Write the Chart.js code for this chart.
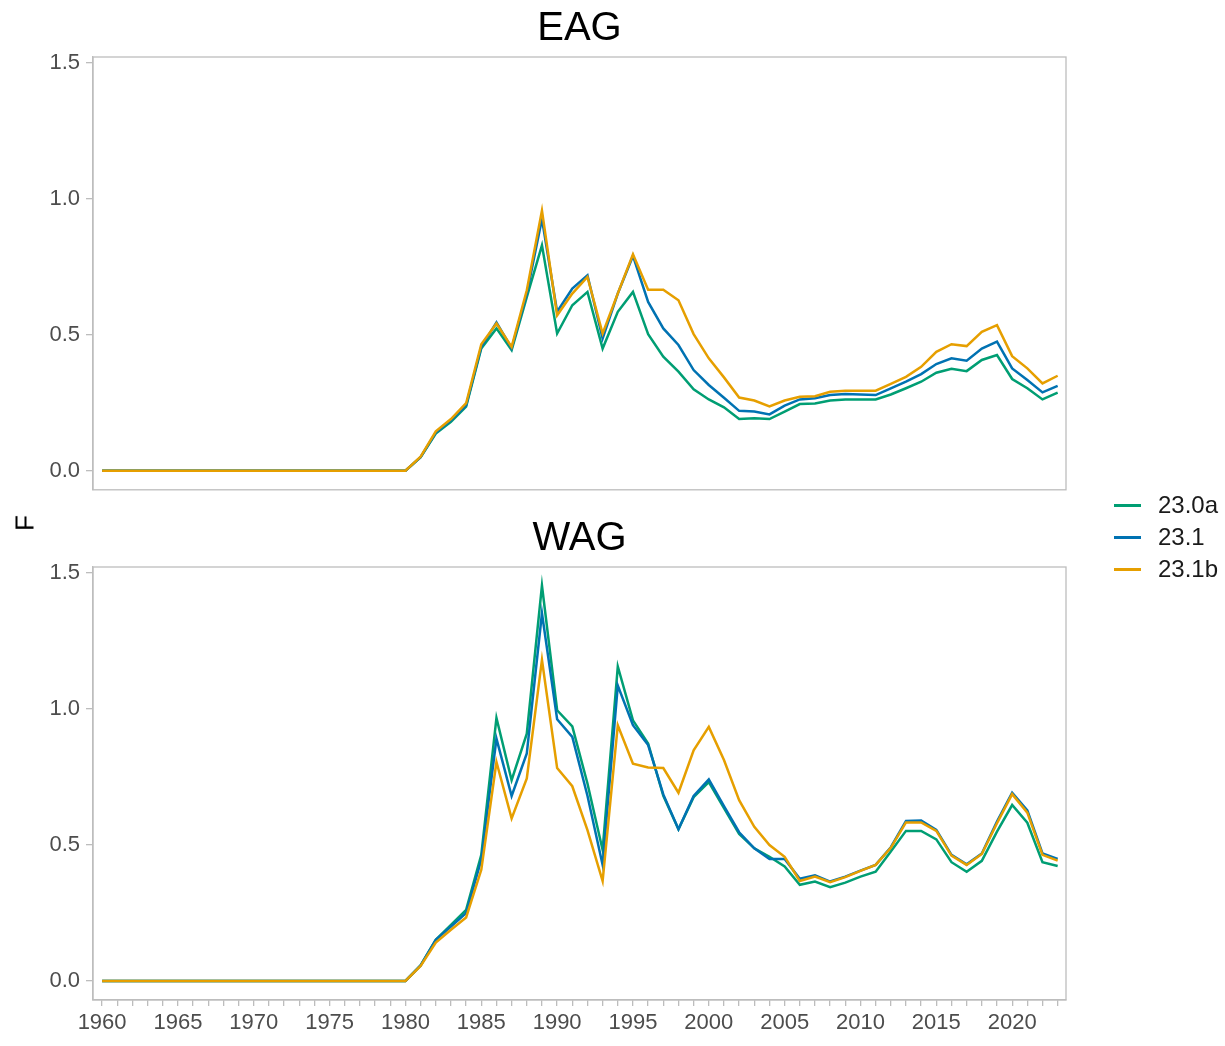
<!DOCTYPE html>
<html>
<head>
<meta charset="utf-8">
<title>F by area</title>
<script src="https://cdn.jsdelivr.net/npm/chart.js"></script>
<style>
  body { margin: 0; background: #fff; width: 1225px; height: 1046px; position: relative; overflow: hidden;
         font-family: "Liberation Sans", Arial, sans-serif; }
  .panel { position: absolute; left: 0; }
  #ylab { position: absolute; left: 25px; top: 523px; transform: translate(-50%, -50%) rotate(-90deg);
          font-size: 26px; color: #000; }
  #legend { position: absolute; left: 1114px; top: 489px; }
  .item { height: 32px; display: flex; align-items: center; font-size: 24px; color: #1a1a1a; }
  .swatch { width: 27px; height: 3px; margin-right: 17px; }
</style>
</head>
<body>
<div class="panel" style="top:0;width:1160px;height:509px"><canvas id="eag"></canvas></div>
<div class="panel" style="top:510px;width:1160px;height:536px"><canvas id="wag"></canvas></div>
<div id="ylab">F</div>
<div id="legend"></div>
<script>
// data
const years = [1960,1961,1962,1963,1964,1965,1966,1967,1968,1969,1970,1971,1972,1973,1974,1975,1976,1977,1978,1979,
  1980,1981,1982,1983,1984,1985,1986,1987,1988,1989,1990,1991,1992,1993,1994,1995,1996,1997,1998,1999,
  2000,2001,2002,2003,2004,2005,2006,2007,2008,2009,2010,2011,2012,2013,2014,2015,2016,2017,2018,2019,
  2020,2021,2022,2023];
const seriesNames = ['23.0a', '23.1', '23.1b'];
const seriesColors = ['#009E73', '#0072B2', '#E69F00'];
const yTicks = [0, 0.5, 1.0, 1.5];

// EAG
const eag230a = [0,0,0,0,0,0,0,0,0,0,0,0,0,0,0,0,0,0,0,0,
  0,0.05,0.137,0.18,0.236,0.449,0.523,0.443,0.638,0.828,0.504,0.608,0.657,0.449,0.584,0.657,0.502,0.419,0.364,0.299,
  0.262,0.233,0.19,0.193,0.19,0.217,0.245,0.247,0.258,0.262,0.262,0.262,0.28,0.303,0.327,0.36,0.375,0.366,0.407,0.425,
  0.337,0.303,0.262,0.287];
const eag231 = [0,0,0,0,0,0,0,0,0,0,0,0,0,0,0,0,0,0,0,0,
  0,0.05,0.14,0.185,0.24,0.455,0.545,0.45,0.65,0.925,0.584,0.669,0.718,0.486,0.651,0.789,0.62,0.523,0.462,0.37,
  0.315,0.268,0.22,0.218,0.207,0.239,0.262,0.266,0.278,0.282,0.28,0.278,0.303,0.327,0.355,0.392,0.413,0.404,0.449,0.474,
  0.376,0.333,0.288,0.312];
const eag231b = [0,0,0,0,0,0,0,0,0,0,0,0,0,0,0,0,0,0,0,0,
  0,0.052,0.145,0.19,0.248,0.465,0.541,0.455,0.663,0.956,0.571,0.651,0.712,0.504,0.651,0.795,0.665,0.665,0.626,0.502,
  0.413,0.343,0.269,0.258,0.236,0.258,0.272,0.274,0.29,0.294,0.294,0.294,0.319,0.345,0.382,0.437,0.465,0.458,0.51,0.535,
  0.421,0.376,0.321,0.349];

// WAG
const wag230a = [0,0,0,0,0,0,0,0,0,0,0,0,0,0,0,0,0,0,0,0,
  0,0.057,0.151,0.206,0.261,0.463,0.966,0.737,0.908,1.452,0.994,0.935,0.725,0.481,1.155,0.957,0.872,0.68,0.557,0.675,
  0.73,0.635,0.54,0.487,0.456,0.42,0.353,0.365,0.344,0.361,0.383,0.401,0.475,0.551,0.551,0.52,0.436,0.401,0.441,0.548,
  0.646,0.581,0.436,0.422];
const wag231 = [0,0,0,0,0,0,0,0,0,0,0,0,0,0,0,0,0,0,0,0,
  0,0.057,0.151,0.2,0.249,0.445,0.89,0.679,0.835,1.35,0.961,0.896,0.68,0.426,1.085,0.939,0.866,0.685,0.557,0.679,
  0.74,0.642,0.546,0.487,0.448,0.448,0.375,0.388,0.365,0.383,0.405,0.426,0.491,0.587,0.589,0.555,0.463,0.428,0.468,0.585,
  0.691,0.626,0.468,0.448];
const wag231b = [0,0,0,0,0,0,0,0,0,0,0,0,0,0,0,0,0,0,0,0,
  0,0.055,0.141,0.188,0.233,0.408,0.804,0.597,0.744,1.179,0.782,0.715,0.554,0.367,0.939,0.798,0.784,0.782,0.691,0.847,
  0.933,0.811,0.664,0.566,0.499,0.456,0.367,0.383,0.363,0.381,0.404,0.426,0.489,0.582,0.582,0.551,0.46,0.426,0.466,0.579,
  0.686,0.618,0.463,0.442];

const FONT = '"Liberation Sans", Arial, sans-serif';
const GREY = '#bdbdbd';

// box around the panel
const panelBorder = {
  id: 'panelBorder',
  afterDatasetsDraw(chart) {
    const a = chart.chartArea, c = chart.ctx;
    c.save();
    c.strokeStyle = GREY;
    c.lineWidth = 1.3;
    c.strokeRect(a.left, a.top, a.right - a.left, a.bottom - a.top);
    c.restore();
  }
};

function makePanel(id, title, series, showX) {
  const datasets = series.map((vals, i) => ({
    label: seriesNames[i],
    data: years.map((yr, j) => ({ x: yr, y: vals[j] })),
    borderColor: seriesColors[i],
    borderWidth: 2.5,
    pointRadius: 0,
    tension: 0,
    fill: false,
    order: 3 - i
  }));

  return new Chart(document.getElementById(id), {
    type: 'line',
    data: { datasets: datasets },
    plugins: [panelBorder],
    options: {
      responsive: true,
      maintainAspectRatio: false,
      animation: false,
      layout: { padding: { left: 0, right: 1, top: 0, bottom: 0 } },
      plugins: {
        legend: { display: false },
        tooltip: { enabled: false },
        title: {
          display: true,
          text: title,
          color: '#000',
          font: { family: FONT, size: 40, weight: 'normal', lineHeight: 1.2 },
          padding: { top: 5, bottom: 4 }
        }
      },
      scales: {
        x: {
          type: 'linear',
          display: showX,
          min: 1959.4,
          max: 2023.55,
          afterBuildTicks: s => { s.ticks = years.map(v => ({ value: v })); },
          afterFit: s => { s.height = showX ? 46 : 0; },
          border: { display: true, color: GREY, width: 1.3 },
          grid: { drawOnChartArea: false, drawTicks: true, tickLength: 6, color: GREY, lineWidth: 1.3 },
          ticks: {
            autoSkip: false,
            maxRotation: 0,
            padding: 4,
            color: '#4d4d4d',
            font: { family: FONT, size: 22 },
            callback: v => (v % 5 === 0 ? String(v) : '')
          }
        },
        y: {
          min: -0.07,
          max: 1.52,
          afterBuildTicks: s => { s.ticks = yTicks.map(v => ({ value: v })); },
          afterFit: s => { s.width = 93; },
          border: { display: true, color: GREY, width: 1.3 },
          grid: { drawOnChartArea: false, drawTicks: true, tickLength: 7, color: GREY, lineWidth: 1.3 },
          ticks: {
            padding: 6,
            color: '#4d4d4d',
            font: { family: FONT, size: 22 },
            callback: v => v.toFixed(1)
          }
        },
        // empty spacer on the right so the panel title centres over the plot box
        spacer: {
          type: 'linear',
          position: 'right',
          min: 0,
          max: 1,
          afterFit: s => { s.width = 93; },
          border: { display: false },
          grid: { display: false },
          ticks: { display: false }
        }
      }
    }
  });
}

makePanel('eag', 'EAG', [eag230a, eag231, eag231b], false);
makePanel('wag', 'WAG', [wag230a, wag231, wag231b], true);

// legend
const lg = document.getElementById('legend');
seriesNames.forEach((n, i) => {
  const row = document.createElement('div');
  row.className = 'item';
  row.innerHTML = '<span class="swatch" style="background:' + seriesColors[i] + '"></span>' + n;
  lg.appendChild(row);
});
</script>
</body>
</html>
